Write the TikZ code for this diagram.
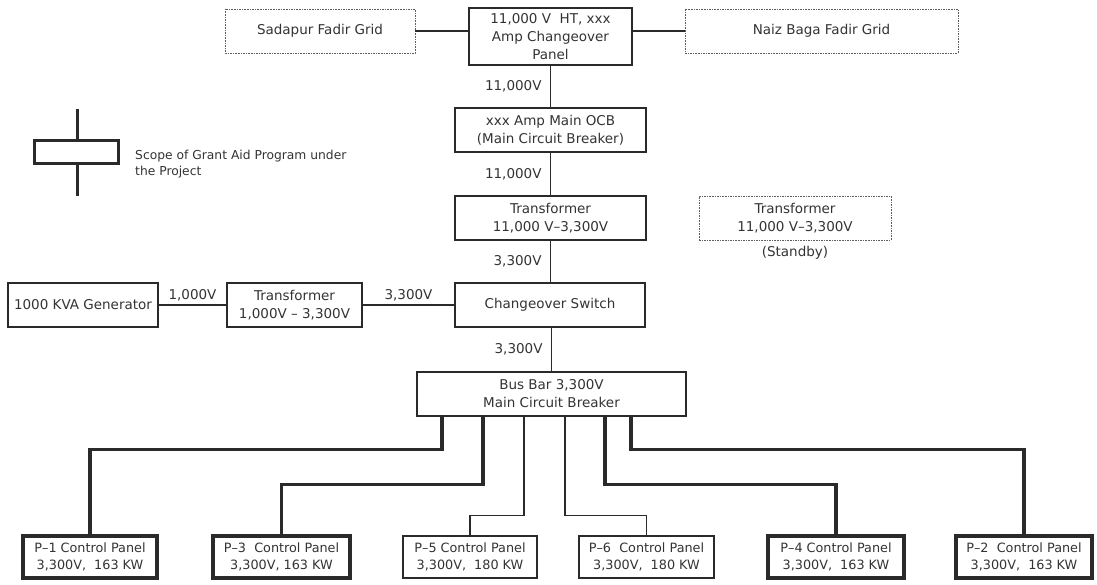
\documentclass[tikz,border=0pt]{standalone}
\usepackage{fontspec}
\setmainfont{DejaVu Sans}
\definecolor{linec}{HTML}{2A2A2A}
\definecolor{txtc}{HTML}{333333}
\definecolor{dashc}{HTML}{5E5E5E}
\begin{document}
\begin{tikzpicture}[x=1pt,y=-1pt,
  every node/.style={text=txtc},
  box/.style={draw=linec, line width=1.3pt, minimum height=44pt, inner sep=0pt, align=center, font=\fontsize{13.5}{18}\selectfont},
  dbox/.style={draw=dashc, line width=0.9pt, dash pattern=on 1.6pt off 1pt, minimum height=44pt, inner sep=0pt, align=center, font=\fontsize{13.5}{18}\selectfont},
  panel/.style={draw=linec, line width=1.3pt, minimum height=42pt, inner sep=0pt, align=center, font=\fontsize{12.8}{17}\selectfont},
  tpanel/.style={panel, line width=3.5pt},
  thn/.style={draw=linec, line width=1.3pt},
  thk/.style={draw=linec, line width=3.5pt},
  vlab/.style={midway, left, xshift=-5pt, font=\fontsize{13.5}{16}\selectfont},
  hlab/.style={midway, above, font=\fontsize{13.5}{16}\selectfont}
]
\useasboundingbox (0,0) rectangle (1097,584);

% top row
\node[dbox, minimum width=190pt] (sad) at (320,31) {Sadapur Fadir Grid};
\node[box, minimum width=163pt, minimum height=57pt] (top) at (550.5,36.5) {11,000 V\ \ HT, xxx\\Amp Changeover\\Panel};
\node[dbox, minimum width=273pt] (naiz) at (821.5,31) {Naiz Baga Fadir Grid};

\node[box, minimum width=191pt] (ocb) at (550.5,130) {xxx Amp Main OCB\\(Main Circuit Breaker)};
\node[box, minimum width=191pt] (tr1) at (550.5,218) {Transformer\\11,000 V–3,300V};
\node[dbox, minimum width=192pt] (trsb) at (795,218) {Transformer\\11,000 V–3,300V};
\node[font=\fontsize{13.5}{16}\selectfont] (sby) at (795,253) {(Standby)};

\node[box, minimum width=150pt] (gen) at (83,305) {1000 KVA Generator};
\node[box, minimum width=135pt] (trs) at (294.5,305) {Transformer\\1,000V – 3,300V};
\node[box, minimum width=190pt] (cs) at (550,305) {Changeover Switch};

\node[box, minimum width=269pt] (bus) at (551.5,394) {Bus Bar 3,300V\\Main Circuit Breaker};

% panels
\node[tpanel, minimum width=134pt] (P1) at (90,557) {P–1 Control Panel\\3,300V,\ \ 163 KW};
\node[tpanel, minimum width=137pt] (P3) at (281.5,557) {P–3\ \ Control Panel\\3,300V, 163 KW};
\node[panel, minimum width=134pt] (P5) at (470,557) {P–5 Control Panel\\3,300V,\ \ 180 KW};
\node[panel, minimum width=135pt] (P6) at (646.5,557) {P–6\ \ Control Panel\\3,300V,\ \ 180 KW};
\node[tpanel, minimum width=136pt] (P4) at (836,557) {P–4 Control Panel\\3,300V,\ \ 163 KW};
\node[tpanel, minimum width=136pt] (P2) at (1024,557) {P–2\ \ Control Panel\\3,300V,\ \ 163 KW};

% connectors
\draw[thn] (sad.east) -- (sad.east -| top.west);
\draw[thn] (top.east |- naiz.west) -- (naiz.west);
\draw[thn] (top.south) -- (top.south |- ocb.north) node[vlab] {11,000V};
\draw[thn] (ocb) -- (tr1) node[vlab] {11,000V};
\draw[thn] (tr1.south) -- (tr1.south |- cs.north) node[vlab] {3,300V};
\draw[thn] (cs.south -| bus.north) -- (bus.north) node[vlab] {3,300V};
\draw[thn] (gen) -- (trs) node[hlab] {1,000V};
\draw[thn] (trs) -- (cs) node[hlab] {3,300V};

\coordinate (b1) at ([xshift=-109.5pt]bus.south);
\coordinate (b2) at ([xshift=-68.5pt]bus.south);
\coordinate (b3) at ([xshift=-27.5pt]bus.south);
\coordinate (b4) at ([xshift=13.5pt]bus.south);
\coordinate (b5) at ([xshift=53.5pt]bus.south);
\coordinate (b6) at ([xshift=79.5pt]bus.south);
\draw[thk] (b1) -- ++(0,33) -| (P1.north);
\draw[thk] (b2) -- ++(0,68) -| (P3.north);
\draw[thn] (b3) -- ++(0,99) -| (P5.north);
\draw[thn] (b4) -- ++(0,99) -| (P6.north);
\draw[thk] (b5) -- ++(0,68) -| (P4.north);
\draw[thk] (b6) -- ++(0,33) -| (P2.north);

% legend
\coordinate (lgtop) at (77,109);
\coordinate (lgbot) at (77,196);
\draw[draw=linec, line width=3pt] (lgtop) -- (lgbot);
\node[draw=linec, fill=white, line width=3pt, minimum width=84pt, minimum height=23pt, inner sep=0pt] (lgbox) at (76,151.5) {};
\node[anchor=west, align=left, font=\fontsize{12.3}{16}\selectfont, inner sep=0pt] (lgtext) at (135,164) {Scope of Grant Aid Program under\\the Project};
\end{tikzpicture}
\end{document}
